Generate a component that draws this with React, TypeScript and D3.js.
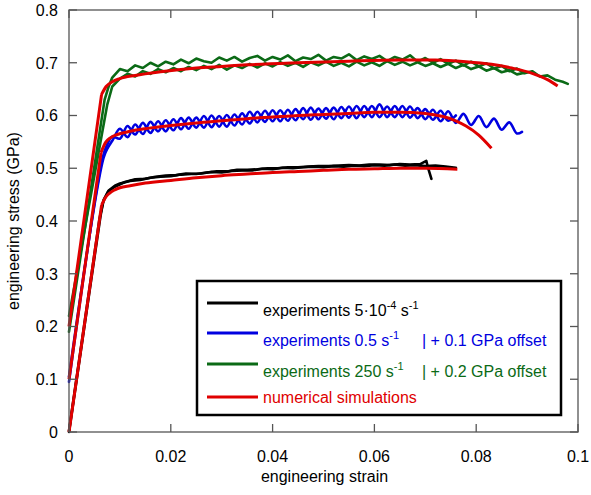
import React from 'react';
import * as d3 from 'd3';

// strain, stress (GPa)
const blackExp1: [number, number][] = [
  [0, 0], [0.0062, 0.41], [0.0068, 0.44], [0.0078, 0.458], [0.009, 0.467],
  [0.01, 0.471], [0.012, 0.476], [0.014, 0.478], [0.016, 0.482], [0.018, 0.484], [0.02, 0.485],
  [0.022, 0.488], [0.024, 0.489], [0.026, 0.49], [0.028, 0.493], [0.03, 0.492], [0.032, 0.495],
  [0.034, 0.496], [0.036, 0.496], [0.038, 0.499], [0.04, 0.498], [0.042, 0.501], [0.044, 0.5],
  [0.046, 0.502], [0.048, 0.503], [0.05, 0.502], [0.052, 0.504], [0.054, 0.503], [0.056, 0.505],
  [0.058, 0.504], [0.06, 0.506], [0.062, 0.505], [0.064, 0.507], [0.066, 0.505], [0.068, 0.506],
  [0.07, 0.504], [0.072, 0.505], [0.074, 0.503], [0.076, 0.501],
];

const blackExp2: [number, number][] = [
  [0, 0.002], [0.006, 0.405], [0.0067, 0.436], [0.0077, 0.456], [0.009, 0.465],
  [0.011, 0.474], [0.013, 0.479], [0.015, 0.48], [0.017, 0.484], [0.019, 0.486], [0.021, 0.487],
  [0.023, 0.49], [0.025, 0.489], [0.027, 0.492], [0.029, 0.494], [0.031, 0.494], [0.033, 0.497],
  [0.035, 0.497], [0.037, 0.498], [0.039, 0.5], [0.041, 0.5], [0.043, 0.502], [0.045, 0.502],
  [0.047, 0.503], [0.049, 0.504], [0.051, 0.504], [0.053, 0.505], [0.055, 0.506], [0.057, 0.505],
  [0.059, 0.507], [0.061, 0.507], [0.063, 0.506], [0.065, 0.508], [0.067, 0.507], [0.069, 0.508],
  [0.0702, 0.514], [0.0705, 0.502], [0.0712, 0.48],
];

const blueExp1: [number, number][] = [
  [0, 0.095], [0.0066, 0.52], [0.0075, 0.545], [0.0085, 0.56],
  [0.01, 0.556], [0.0115, 0.58], [0.013, 0.564], [0.0145, 0.586], [0.016, 0.567], [0.0175, 0.589],
  [0.019, 0.57], [0.0205, 0.593], [0.022, 0.574], [0.0235, 0.596], [0.025, 0.577], [0.0265, 0.599],
  [0.028, 0.578], [0.0295, 0.599], [0.031, 0.579], [0.0325, 0.602], [0.034, 0.583], [0.0355, 0.607],
  [0.037, 0.587], [0.0385, 0.609], [0.04, 0.589], [0.0415, 0.61], [0.043, 0.59], [0.0445, 0.612],
  [0.046, 0.593], [0.0475, 0.615], [0.049, 0.593], [0.0505, 0.614], [0.052, 0.593], [0.0535, 0.616],
  [0.055, 0.596], [0.0565, 0.618], [0.058, 0.597], [0.0595, 0.618], [0.061, 0.597], [0.0625, 0.617],
  [0.064, 0.597], [0.0655, 0.618], [0.067, 0.596], [0.0685, 0.614], [0.07, 0.593], [0.0715, 0.611],
  [0.073, 0.589], [0.0745, 0.608], [0.076, 0.586], [0.0775, 0.603], [0.079, 0.582], [0.0805, 0.599],
  [0.082, 0.578], [0.0835, 0.594], [0.085, 0.573], [0.0865, 0.587], [0.088, 0.566], [0.089, 0.569],
];

const blueExp2: [number, number][] = [
  [0, 0.105], [0.0068, 0.52], [0.0077, 0.54], [0.0085, 0.552],
  [0.01, 0.575], [0.0115, 0.559], [0.013, 0.583], [0.0145, 0.565], [0.016, 0.588], [0.0175, 0.57],
  [0.019, 0.591], [0.0205, 0.572], [0.022, 0.595], [0.0235, 0.575], [0.025, 0.596], [0.0265, 0.577],
  [0.028, 0.6], [0.0295, 0.579], [0.031, 0.601], [0.0325, 0.581], [0.034, 0.604], [0.0355, 0.585],
  [0.037, 0.607], [0.0385, 0.588], [0.04, 0.61], [0.0415, 0.589], [0.043, 0.611], [0.0445, 0.591],
  [0.046, 0.614], [0.0475, 0.592], [0.049, 0.613], [0.0505, 0.594], [0.052, 0.615], [0.0535, 0.595],
  [0.055, 0.617], [0.0565, 0.595], [0.058, 0.618], [0.0595, 0.597], [0.061, 0.621], [0.0625, 0.597],
  [0.064, 0.618], [0.0655, 0.597], [0.067, 0.617], [0.0685, 0.595], [0.07, 0.612], [0.0715, 0.592],
  [0.073, 0.609], [0.0745, 0.59], [0.076, 0.6],
];

const greenExp1: [number, number][] = [
  [0, 0.19], [0.007, 0.63], [0.0078, 0.655], [0.0085, 0.672],
  [0.01, 0.688], [0.0115, 0.684], [0.013, 0.695], [0.0145, 0.69], [0.016, 0.7], [0.0175, 0.693],
  [0.019, 0.702], [0.0205, 0.697], [0.022, 0.706], [0.0235, 0.699], [0.025, 0.708], [0.0265, 0.703],
  [0.028, 0.7], [0.0295, 0.71], [0.031, 0.704], [0.0325, 0.711], [0.034, 0.702], [0.0355, 0.709],
  [0.037, 0.713], [0.0385, 0.704], [0.04, 0.711], [0.0415, 0.706], [0.043, 0.714], [0.0445, 0.703],
  [0.046, 0.71], [0.0475, 0.707], [0.049, 0.715], [0.0505, 0.704], [0.052, 0.711], [0.0535, 0.708],
  [0.055, 0.716], [0.0565, 0.705], [0.058, 0.712], [0.0595, 0.707], [0.061, 0.713], [0.0625, 0.703],
  [0.064, 0.711], [0.0655, 0.706], [0.067, 0.714], [0.0685, 0.702], [0.07, 0.709], [0.0715, 0.7],
  [0.073, 0.707], [0.0745, 0.698], [0.076, 0.704], [0.0775, 0.695], [0.079, 0.702], [0.0805, 0.693],
  [0.082, 0.699], [0.0835, 0.689], [0.085, 0.694], [0.0865, 0.684], [0.088, 0.689], [0.0895, 0.68],
  [0.091, 0.684], [0.0925, 0.674], [0.094, 0.676], [0.0955, 0.668], [0.097, 0.664], [0.098, 0.66],
];

const greenExp2: [number, number][] = [
  [0, 0.22], [0.0075, 0.62], [0.0085, 0.655],
  [0.01, 0.67], [0.0115, 0.679], [0.013, 0.674], [0.0145, 0.684], [0.016, 0.679], [0.0175, 0.688],
  [0.019, 0.682], [0.0205, 0.69], [0.022, 0.684], [0.0235, 0.692], [0.025, 0.686], [0.0265, 0.694],
  [0.028, 0.688], [0.0295, 0.696], [0.031, 0.687], [0.0325, 0.695], [0.034, 0.69], [0.0355, 0.698],
  [0.037, 0.691], [0.0385, 0.699], [0.04, 0.693], [0.0415, 0.701], [0.043, 0.694], [0.0445, 0.7],
  [0.046, 0.692], [0.0475, 0.701], [0.049, 0.695], [0.0505, 0.702], [0.052, 0.694], [0.0535, 0.7],
  [0.055, 0.693], [0.0565, 0.702], [0.058, 0.695], [0.0595, 0.701], [0.061, 0.694], [0.0625, 0.703],
  [0.064, 0.696], [0.0655, 0.702], [0.067, 0.695], [0.0685, 0.701], [0.07, 0.694], [0.0715, 0.699],
  [0.073, 0.692], [0.0745, 0.698], [0.076, 0.69], [0.0775, 0.696], [0.079, 0.688], [0.0805, 0.693],
  [0.082, 0.685], [0.0835, 0.69], [0.085, 0.682], [0.0865, 0.686], [0.088, 0.678], [0.0895, 0.681],
];

const simBlack: [number, number][] = [
  [0, 0], [0.0064, 0.43], [0.0072, 0.445], [0.008, 0.453], [0.009, 0.459], [0.01, 0.463],
  [0.012, 0.467], [0.015, 0.472], [0.02, 0.477], [0.025, 0.482], [0.03, 0.486], [0.035, 0.489],
  [0.04, 0.492], [0.045, 0.494], [0.05, 0.496], [0.055, 0.498], [0.06, 0.499], [0.065, 0.5],
  [0.07, 0.5], [0.0763, 0.498],
];

const simBlue: [number, number][] = [
  [0, 0.1], [0.0063, 0.53], [0.0072, 0.549], [0.0082, 0.558], [0.0095, 0.564], [0.012, 0.57],
  [0.015, 0.575], [0.02, 0.581], [0.025, 0.586], [0.03, 0.59], [0.035, 0.594], [0.04, 0.597],
  [0.045, 0.6], [0.05, 0.602], [0.055, 0.604], [0.06, 0.606], [0.065, 0.606], [0.07, 0.604],
  [0.0735, 0.598], [0.076, 0.59], [0.078, 0.58], [0.0805, 0.563], [0.083, 0.538],
];

const simGreen: [number, number][] = [
  [0, 0.2], [0.0064, 0.64], [0.0073, 0.655], [0.0085, 0.664], [0.01, 0.67], [0.013, 0.676],
  [0.018, 0.683], [0.025, 0.69], [0.03, 0.693], [0.035, 0.696], [0.045, 0.7], [0.055, 0.703],
  [0.065, 0.705], [0.072, 0.705], [0.078, 0.702], [0.083, 0.697], [0.087, 0.69], [0.091, 0.68],
  [0.094, 0.668], [0.096, 0.656],
];

const xTicks = [0, 0.02, 0.04, 0.06, 0.08, 0.1];
const yTicks = [0, 0.1, 0.2, 0.3, 0.4, 0.5, 0.6, 0.7, 0.8];

const BLACK = '#000000';
const BLUE = '#0000e0';
const GREEN = '#0b6a16';
const RED = '#e00000';

const W = 591;
const H = 495;
const margin = { top: 10, right: 13, bottom: 63, left: 69 };
const FONT = 'Liberation Sans, Arial, Helvetica, sans-serif';

export default function App() {
  const iw = W - margin.left - margin.right;
  const ih = H - margin.top - margin.bottom;

  const x = d3.scaleLinear().domain([0, 0.1]).range([0, iw]);
  const y = d3.scaleLinear().domain([0, 0.8]).range([ih, 0]);

  const line = d3.line<[number, number]>()
    .x(d => x(d[0]))
    .y(d => y(d[1]));
  const smooth = d3.line<[number, number]>()
    .x(d => x(d[0]))
    .y(d => y(d[1]))
    .curve(d3.curveMonotoneX);
  const wavy = d3.line<[number, number]>()
    .x(d => x(d[0]))
    .y(d => y(d[1]))
    .curve(d3.curveCatmullRom.alpha(0.5));

  // elastic part straight, plastic part smooth (keeps the knee sharp)
  const simPath = (s: [number, number][]) =>
    (line(s.slice(0, 2)) || '') + (smooth(s.slice(1)) || '');

  const exps = [
    { data: blackExp1, color: BLACK, gen: line },
    { data: blackExp2, color: BLACK, gen: line },
    { data: blueExp1, color: BLUE, gen: wavy },
    { data: blueExp2, color: BLUE, gen: wavy },
    { data: greenExp1, color: GREEN, gen: line },
    { data: greenExp2, color: GREEN, gen: line },
  ];
  const sims = [simBlack, simBlue, simGreen];

  const axisColor = '#555';
  const tickLen = 8;

  // legend
  const lg = { x: 197, y: 281, w: 364, h: 134 };
  const rows = [
    { color: BLACK, ly: 303, ty: 316 },
    { color: BLUE, ly: 333, ty: 346 },
    { color: GREEN, ly: 364, ty: 377 },
    { color: RED, ly: 397, ty: 403 },
  ];

  return (
    <svg width={W} height={H} style={{ position: 'absolute', left: 0, top: 0, background: '#fff' }}
      fontFamily={FONT}>
      <rect x={0} y={0} width={W} height={H} fill="#fff" />
      <g transform={`translate(${margin.left},${margin.top})`}>
        {exps.map((s, i) => (
          <path key={'e' + i} d={s.gen(s.data) || ''} fill="none" stroke={s.color}
            strokeWidth={2.6} strokeLinejoin="round" strokeLinecap="round" />
        ))}
        {sims.map((s, i) => (
          <path key={'s' + i} d={simPath(s)} fill="none" stroke={RED}
            strokeWidth={3} strokeLinejoin="round" />
        ))}

        {/* frame */}
        <rect x={0} y={0} width={iw} height={ih} fill="none" stroke={axisColor} strokeWidth={1.3} />
        {xTicks.map(t => (
          <g key={'xt' + t}>
            <line x1={x(t)} x2={x(t)} y1={ih} y2={ih - tickLen} stroke={axisColor} strokeWidth={1.3} />
            <line x1={x(t)} x2={x(t)} y1={0} y2={tickLen} stroke={axisColor} strokeWidth={1.3} />
            <text x={x(t)} y={ih + 30} textAnchor="middle" fontSize={16} fill="#000">{String(t)}</text>
          </g>
        ))}
        {yTicks.map(t => (
          <g key={'yt' + t}>
            <line x1={0} x2={tickLen} y1={y(t)} y2={y(t)} stroke={axisColor} strokeWidth={1.3} />
            <line x1={iw} x2={iw - tickLen} y1={y(t)} y2={y(t)} stroke={axisColor} strokeWidth={1.3} />
            <text x={-11} y={y(t)} dy="0.36em" textAnchor="end" fontSize={16} fill="#000">{String(t)}</text>
          </g>
        ))}
        <text x={iw / 2 + 1} y={ih + 50} textAnchor="middle" fontSize={16} fill="#000">engineering strain</text>
        <text transform={`translate(${-50},${ih / 2}) rotate(-90)`} textAnchor="middle" fontSize={16} fill="#000">
          engineering stress (GPa)
        </text>
      </g>

      {/* legend */}
      <rect x={lg.x} y={lg.y} width={lg.w} height={lg.h} fill="#fff" stroke="#000" strokeWidth={2.5} />
      {rows.map((r, i) => (
        <line key={'ll' + i} x1={207} x2={258} y1={r.ly} y2={r.ly} stroke={r.color} strokeWidth={3} />
      ))}
      <text x={263} y={rows[0].ty} fontSize={16} fill={BLACK}>
        experiments 5·10<tspan fontSize={11} dy={-7}>-4</tspan>
        <tspan dy={7}> s</tspan><tspan fontSize={11} dy={-7}>-1</tspan>
      </text>
      <text x={263} y={rows[1].ty} fontSize={16} fill={BLUE}>
        experiments 0.5 s<tspan fontSize={11} dy={-7}>-1</tspan>
      </text>
      <text x={422} y={rows[1].ty} fontSize={16} fill={BLUE}>| + 0.1 GPa offset</text>
      <text x={263} y={rows[2].ty} fontSize={16} fill={GREEN}>
        experiments 250 s<tspan fontSize={11} dy={-7}>-1</tspan>
      </text>
      <text x={422} y={rows[2].ty} fontSize={16} fill={GREEN}>| + 0.2 GPa offset</text>
      <text x={263} y={rows[3].ty} fontSize={16} fill={RED}>numerical simulations</text>
    </svg>
  );
}
